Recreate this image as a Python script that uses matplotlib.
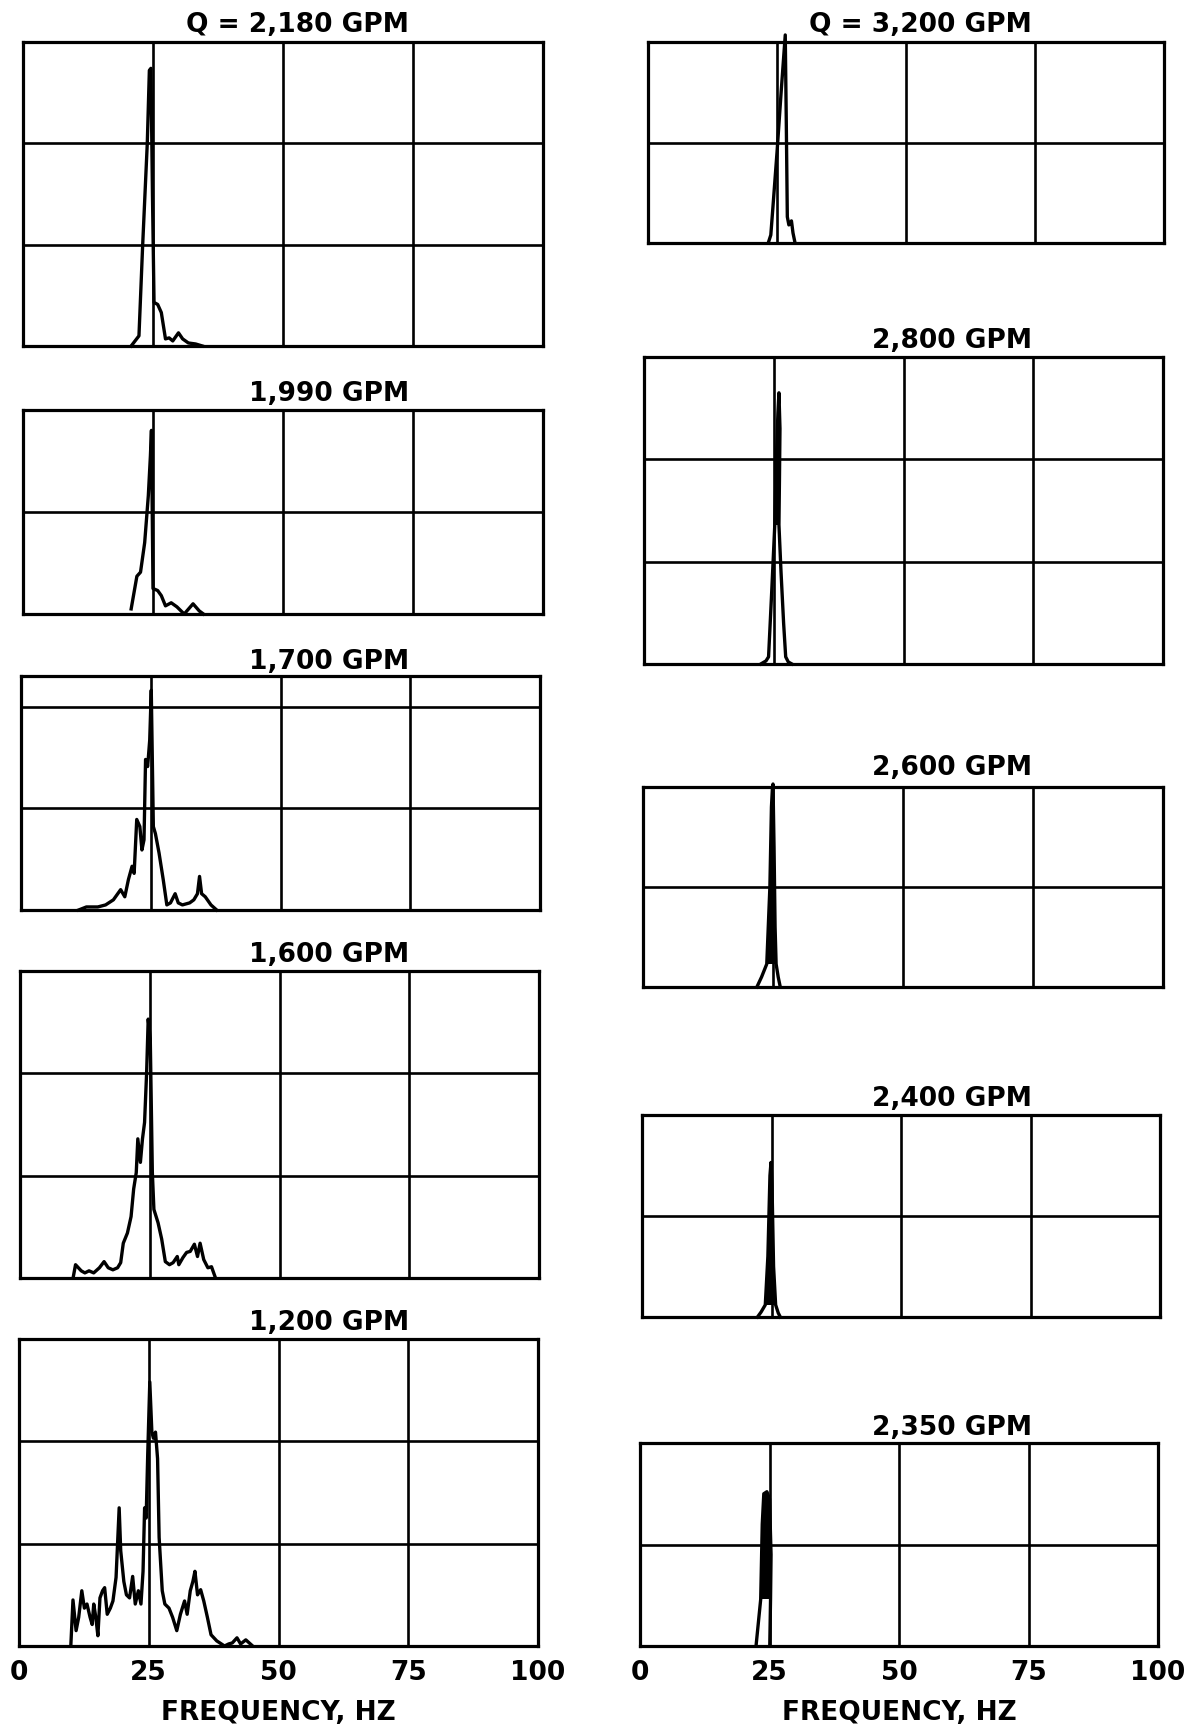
import matplotlib
matplotlib.use('Agg')
import matplotlib.pyplot as plt
from matplotlib.patches import Rectangle

# ---------------- data ----------------
# amplitude in grid-row units, frequency in Hz
titles = ["Q = 2,180 GPM", "1,990 GPM", "1,700 GPM", "1,600 GPM", "1,200 GPM",
          "Q = 3,200 GPM", "2,800 GPM", "2,600 GPM", "2,400 GPM", "2,350 GPM"]

f_2180 = [20.8, 22.3, 23.0, 23.9, 24.3, 24.6, 24.9, 25.2, 25.9, 26.6, 27.4, 28.1,
          28.8, 29.9, 30.7, 31.8, 33.2, 34.5]
a_2180 = [0.0, 0.10, 0.98, 2.00, 2.72, 2.74, 1.48, 0.43, 0.41, 0.33, 0.07, 0.08,
          0.05, 0.13, 0.07, 0.03, 0.02, 0.0]

f_1990 = [20.8, 21.9, 22.6, 23.4, 24.1, 24.5, 24.7, 25.0, 25.9, 26.6, 27.4, 28.5,
          29.6, 31.0, 32.7, 33.9, 34.7]
a_1990 = [0.05, 0.37, 0.41, 0.70, 1.16, 1.55, 1.80, 0.25, 0.23, 0.18, 0.08, 0.11,
          0.07, 0.0, 0.10, 0.03, 0.0]

f_1700 = [11.1, 12.6, 14.8, 16.3, 17.8, 19.2, 20.0, 20.7, 21.4, 21.8, 22.3, 22.9,
          23.3, 23.7, 24.0, 24.4, 24.8, 25.1, 25.5, 25.9, 26.6, 27.4, 28.1, 28.8,
          29.7, 30.3, 31.1, 32.5, 33.3, 34.0, 34.4, 34.8, 35.5, 36.6, 37.7]
a_1700 = [0.0, 0.03, 0.03, 0.05, 0.10, 0.20, 0.13, 0.30, 0.43, 0.36, 0.89, 0.82,
          0.59, 0.69, 1.48, 1.41, 1.67, 2.16, 0.82, 0.75, 0.56, 0.30, 0.05, 0.07,
          0.16, 0.07, 0.05, 0.07, 0.10, 0.16, 0.33, 0.16, 0.13, 0.05, 0.0]

f_1600 = [10.3, 10.7, 11.8, 12.5, 13.3, 14.2, 15.3, 16.2, 17.0, 17.9, 18.8, 19.4,
          19.9, 20.7, 21.4, 21.9, 22.4, 22.7, 23.2, 23.6, 24.0, 24.4, 24.7, 25.1,
          25.5, 25.8, 26.6, 27.3, 28.0, 28.8, 29.5, 30.3, 30.6, 31.4, 32.1, 32.8,
          33.6, 34.2, 34.7, 35.4, 36.2, 36.9, 37.6]
a_1600 = [0.02, 0.13, 0.07, 0.05, 0.07, 0.05, 0.10, 0.16, 0.10, 0.08, 0.10, 0.15,
          0.34, 0.44, 0.60, 0.87, 1.03, 1.36, 1.13, 1.36, 1.52, 2.01, 2.53, 2.34,
          1.03, 0.67, 0.54, 0.38, 0.16, 0.13, 0.15, 0.21, 0.13, 0.20, 0.25, 0.26,
          0.33, 0.21, 0.34, 0.18, 0.10, 0.11, 0.01]

f_1200 = [10.0, 10.4, 11.0, 11.5, 12.1, 12.6, 13.1, 13.7, 14.1, 14.4, 14.8, 15.2,
          15.6, 16.1, 16.5, 17.0, 17.6, 18.1, 18.7, 19.3, 19.6, 20.2, 20.7, 21.3,
          21.9, 22.4, 23.0, 23.5, 23.9, 24.2, 24.5, 24.8, 25.2, 25.6, 25.9, 26.3,
          26.7, 27.0, 27.6, 28.1, 28.9, 29.6, 30.4, 31.1, 31.9, 32.4, 33.0, 33.5,
          33.9, 34.4, 35.0, 35.6, 36.3, 37.0, 38.1, 39.6, 40.4, 41.1, 42.0, 42.7,
          43.7, 44.8]
a_1200 = [0.02, 0.45, 0.15, 0.28, 0.54, 0.37, 0.41, 0.28, 0.21, 0.41, 0.28, 0.10,
          0.47, 0.54, 0.57, 0.31, 0.37, 0.44, 0.67, 1.35, 0.93, 0.63, 0.50, 0.47,
          0.68, 0.41, 0.54, 0.41, 0.73, 1.35, 1.25, 1.87, 2.58, 2.09, 2.03, 2.09,
          1.83, 1.06, 0.54, 0.41, 0.37, 0.28, 0.15, 0.31, 0.44, 0.31, 0.54, 0.63,
          0.73, 0.50, 0.55, 0.44, 0.28, 0.11, 0.05, 0.0, 0.02, 0.03, 0.08, 0.02,
          0.06, 0.01]

f_3200 = [23.3, 23.8, 24.2, 25.0, 25.8, 26.6, 26.8, 27.0, 27.3, 27.8, 28.1, 28.5]
a_3200 = [0.0, 0.08, 0.35, 0.90, 1.50, 2.07, 1.20, 0.26, 0.18, 0.22, 0.10, 0.0]

f_2800 = [22.5, 23.5, 24.0, 24.6, 25.2, 25.5, 25.8, 26.0, 26.2, 26.1, 26.0, 26.4,
          26.9, 27.3, 27.8, 28.5]
a_2800 = [0.0, 0.03, 0.07, 0.70, 1.36, 2.00, 2.45, 2.65, 2.30, 1.80, 1.36, 0.90,
          0.40, 0.07, 0.02, 0.0]

f_2600 = [21.9, 22.8, 23.8, 24.4, 24.7, 24.9, 25.0, 25.2, 25.4, 25.6, 26.0, 26.4]
a_2600 = [0.0, 0.10, 0.23, 1.00, 1.80, 2.00, 2.03, 1.40, 0.60, 0.23, 0.10, 0.0]

f_2400 = [22.3, 23.0, 23.8, 24.3, 24.7, 24.9, 25.1, 25.4, 25.8, 26.3, 26.7]
a_2400 = [0.0, 0.05, 0.12, 0.60, 1.40, 1.53, 1.30, 0.50, 0.12, 0.04, 0.0]

f_2350 = [22.4, 23.3, 23.6, 23.9, 24.5, 25.0, 25.3, 25.2, 25.05]
a_2350 = [0.0, 0.46, 1.20, 1.50, 1.52, 1.45, 0.90, 0.46, 0.0]

freqs = [f_2180, f_1990, f_1700, f_1600, f_1200, f_3200, f_2800, f_2600, f_2400, f_2350]
amps = [a_2180, a_1990, a_1700, a_1600, a_1200, a_3200, a_2800, a_2600, a_2400, a_2350]
rows = [3, 2, 2.30, 3, 3, 2, 3, 2, 2, 2]
fill_level = [None, None, None, None, None, None, 1.36, 0.23, 0.12, 0.46]

x_ticks = [0, 25, 50, 75, 100]
x_ticklabels = ["0", "25", "50", "75", "100"]
x_label = "FREQUENCY, HZ"

# ---------------- layout (pixels) ----------------
W, H = 1196, 1734
boxes = [  # left, top, right, bottom
    (23, 42, 543, 346),
    (23, 410, 543, 614),
    (21, 676, 540, 910),
    (20, 971, 539, 1278),
    (19, 1339, 538, 1646),
    (648, 42, 1164, 243),
    (644, 357, 1163, 664),
    (643, 787, 1163, 987),
    (642, 1115, 1160, 1317),
    (640, 1443, 1158, 1646),
]
title_pos = [(409, 32), (409, 401), (409, 669), (409, 962), (409, 1330),
             (1032, 32), (1032, 348), (1032, 775), (1032, 1106), (1032, 1435)]

FS = 19
plt.rcParams['font.family'] = ['DejaVu Sans']
fig = plt.figure(figsize=(W / 100, H / 100), dpi=100)
fig.patch.set_facecolor('white')

for i in range(10):
    l, t, r, b = boxes[i]
    ax = fig.add_axes([l / W, 1 - b / H, (r - l) / W, (b - t) / H])
    ax.set_xlim(0, 100)
    ax.set_ylim(0, rows[i])
    ax.set_xticks(x_ticks)
    ax.set_yticks(list(range(0, int(rows[i]) + 1)))
    ax.grid(True, color='black', lw=1.9)
    ax.set_axisbelow(True)
    for s in ax.spines.values():
        s.set_linewidth(2.3)
        s.set_color('black')
    ax.tick_params(length=0, labelleft=False)
    if i in (4, 9):
        ax.set_xticklabels(x_ticklabels, fontsize=FS, fontweight='bold')
        ax.tick_params(axis='x', pad=10)
        ax.set_xlabel(x_label, fontsize=FS, fontweight='bold', labelpad=10)
    else:
        ax.tick_params(labelbottom=False)
    ax.plot(freqs[i], amps[i], color='black', lw=2.4, clip_on=False,
            solid_joinstyle='round', zorder=3)
    if fill_level[i] is not None:
        patch = ax.fill(freqs[i], amps[i], color='black', lw=0, zorder=3)[0]
        clip = Rectangle((0, fill_level[i]), 100, 10, transform=ax.transData)
        patch.set_clip_path(clip)
    x, y = title_pos[i]
    fig.text(x / W, 1 - y / H, titles[i], ha='right', va='baseline',
             fontsize=FS, fontweight='bold')

fig.savefig('out.png', dpi=100, facecolor='white')
